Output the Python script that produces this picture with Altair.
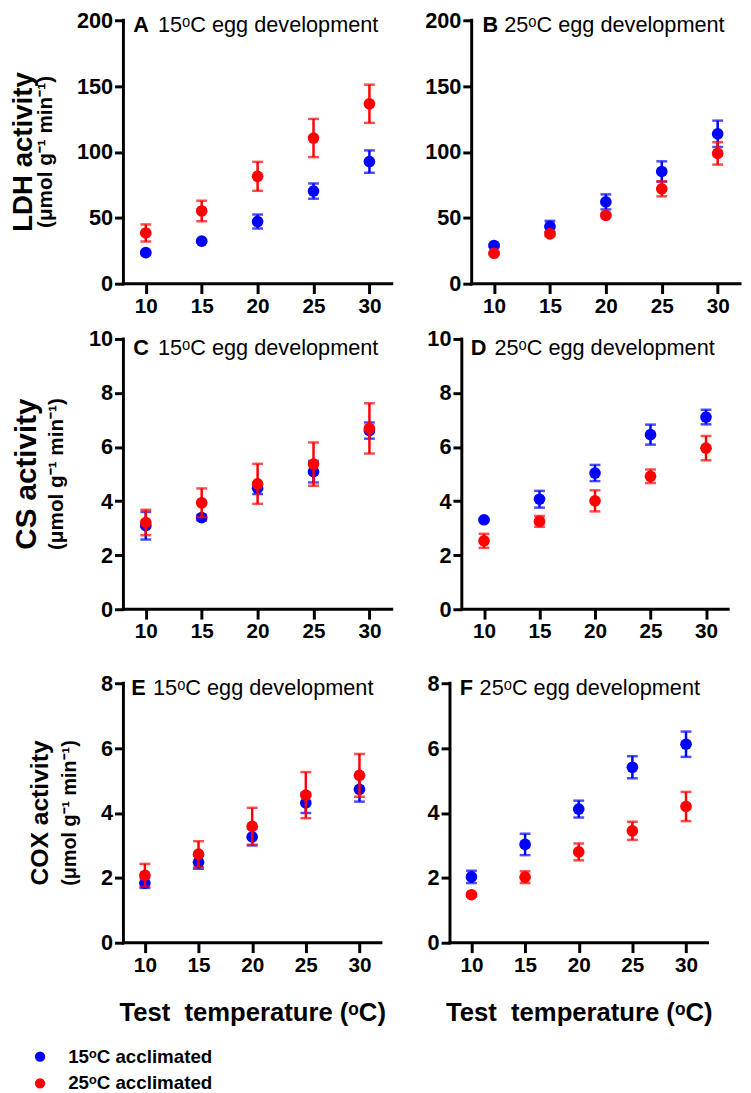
import altair as alt
import pandas as pd

FONT = "Liberation Sans, Arial, Helvetica, sans-serif"

temps = [10, 15, 20, 25, 30]
series_names = ["15ᵒC acclimated", "25ᵒC acclimated"]
series_colors = ["#0000ff", "#ff0000"]

# LDH
A_blue = [23.6, 32.3, 47.2, 70.3, 92.7]
A_blue_err = [1.0, 1.0, 5.3, 5.8, 8.5]
A_red = [38.5, 55.2, 81.5, 110.6, 136.6]
A_red_err = [6.5, 7.8, 11.0, 14.5, 14.5]
B_blue = [29.0, 43.5, 62.1, 85.2, 113.8]
B_blue_err = [1.0, 4.2, 5.7, 7.7, 10.0]
B_red = [23.1, 37.8, 51.9, 72.0, 98.9]
B_red_err = [1.0, 1.5, 1.5, 5.7, 8.5]
# CS
C_blue = [3.09, 3.39, 4.48, 5.09, 6.61]
C_blue_err = [0.51, 0.1, 0.22, 0.4, 0.3]
C_red = [3.21, 3.94, 4.64, 5.37, 6.69]
C_red_err = [0.47, 0.53, 0.74, 0.8, 0.93]
D_blue = [3.31, 4.07, 5.04, 6.46, 7.11]
D_blue_err = [0.05, 0.31, 0.3, 0.37, 0.27]
D_red = [2.53, 3.25, 4.01, 4.92, 5.96]
D_red_err = [0.26, 0.2, 0.39, 0.25, 0.45]
# COX
E_blue = [1.84, 2.48, 3.26, 4.31, 4.73]
E_blue_err = [0.15, 0.2, 0.26, 0.31, 0.38]
E_red = [2.08, 2.73, 3.59, 4.55, 5.16]
E_red_err = [0.35, 0.4, 0.57, 0.71, 0.66]
F_blue = [2.03, 3.03, 4.12, 5.41, 6.12]
F_blue_err = [0.19, 0.33, 0.26, 0.34, 0.39]
F_red = [1.48, 2.02, 2.80, 3.45, 4.20]
F_red_err = [0.05, 0.18, 0.26, 0.28, 0.45]

panel_letters = ["A", "B", "C", "D", "E", "F"]
panel_titles = ["15ᵒC egg development", "25ᵒC egg development",
                "15ᵒC egg development", "25ᵒC egg development",
                "15ᵒC egg development", "25ᵒC egg development"]
y_titles = ["LDH activity", "CS activity", "COX activity"]
y_unit = "(μmol g⁻¹ min⁻¹)"
x_title = "Test\u00a0 temperature (ᵒC)"
x_ticks = [10, 15, 20, 25, 30]
x_domain = [8, 32]
y_max = [200, 10, 8]
y_ticks = [[0, 50, 100, 150, 200], [0, 2, 4, 6, 8, 10], [0, 2, 4, 6, 8]]


def build_df(mb, eb, mr, er):
    rows = []
    for s, m, e in ((series_names[0], mb, eb), (series_names[1], mr, er)):
        for t, v, d in zip(temps, m, e):
            rows.append({"series": s, "temp": t, "mean": v, "lo": v - d, "hi": v + d})
    return pd.DataFrame(rows)


def text_layer(s, x, y, size, weight, angle=0, align="left"):
    return alt.Chart(pd.DataFrame({"t": [s]})).mark_text(
        align=align, baseline="alphabetic", fontSize=size, fontWeight=weight,
        font=FONT, angle=angle, color="black"
    ).encode(text="t:N", x=alt.value(x), y=alt.value(y))


def panel(mb, eb, mr, er, row, w, h, idx, letter_x, rest_x, title_y,
          box, ytitle=None, xtitle=False):
    df = build_df(mb, eb, mr, er)
    x_axis = alt.Axis(values=x_ticks, tickSize=10, labelFontSize=21, labelPadding=2,
                      domain=False,
                      title=x_title if xtitle else None,
                      titleFontSize=26, titleFontWeight="bold", titlePadding=25,
                      titleFont=FONT, titleColor="black")
    y_axis = alt.Axis(values=y_ticks[row], tickSize=9, labelFontSize=22,
                      labelPadding=2, domain=False, title=None)
    xs = alt.Scale(domain=x_domain, nice=False, zero=False)
    ys = alt.Scale(domain=[0, y_max[row]], nice=False)
    color = alt.Color("series:N",
                      scale=alt.Scale(domain=series_names, range=series_colors),
                      legend=alt.Legend(title=None, orient="none", legendX=-94, legendY=1041,
                                        direction="vertical", symbolType="circle",
                                        symbolSize=110, symbolStrokeWidth=0,
                                        labelFont=FONT, labelFontSize=19,
                                        labelFontWeight="bold", labelColor="black",
                                        labelOffset=19, rowPadding=7))
    # axis lines drawn through the scales
    ax_df = pd.DataFrame({"x0": [x_domain[0], x_domain[0]], "x1": [x_domain[0], x_domain[1]],
                          "y0": [0, 0], "y1": [y_max[row], 0]})
    axis_lines = alt.Chart(ax_df).mark_rule(color="black", strokeWidth=3, strokeCap="square").encode(
        x=alt.X("x0:Q", scale=xs, axis=x_axis), x2="x1:Q",
        y=alt.Y("y0:Q", scale=ys, axis=y_axis), y2="y1:Q",
    )
    base = alt.Chart(df)
    layers = [axis_lines]
    for s, c in zip(series_names, series_colors):
        err = base.transform_filter(alt.datum.series == s).mark_errorbar(
            ticks=True, size=11, thickness=2.5, color=c
        ).encode(
            x=alt.X("temp:Q", scale=xs, axis=x_axis),
            y=alt.Y("lo:Q", scale=ys, axis=y_axis),
            y2="hi:Q",
        )
        pts = base.transform_filter(alt.datum.series == s).mark_circle(
            size=140, opacity=1
        ).encode(
            x=alt.X("temp:Q", scale=xs, axis=x_axis),
            y=alt.Y("mean:Q", scale=ys, axis=y_axis),
            color=color,
        )
        layers += [err, pts]
    anchor = alt.Chart(pd.DataFrame({"a": [0]})).mark_rect(opacity=0).encode(
        x=alt.value(box[0]), x2=alt.value(box[1]), y=alt.value(box[2]), y2=alt.value(box[3])
    )
    layers.append(anchor)
    layers.append(text_layer(panel_letters[idx], letter_x, title_y, 22, "bold"))
    layers.append(text_layer(panel_titles[idx], rest_x, title_y, 22, "normal"))
    if ytitle is not None:
        t, tsize, tx, usize, ux = ytitle
        layers.append(text_layer(t, tx, h / 2, tsize, "bold", angle=270, align="center"))
        layers.append(text_layer(y_unit, ux, h / 2, usize, "bold", angle=270, align="center"))
    return alt.layer(*layers).properties(width=w, height=h)


h1, h2, h3 = 267, 274, 263
pA = panel(A_blue, A_blue_err, A_red, A_red_err, 0, 272, h1, 0, 10, 35, 12,
           (-117, 274, -10, h1 + 36), ytitle=(y_titles[0], 28, -93, 21, -72))
pB = panel(B_blue, B_blue_err, B_red, B_red_err, 0, 272, h1, 1, 11, 33, 12,
           (-50, 272, -10, h1 + 36))
pC = panel(C_blue, C_blue_err, C_red, C_red_err, 1, 272, h2, 2, 10, 35, 16,
           (-117, 274, -20, h2 + 40), ytitle=(y_titles[1], 30, -89, 21, -61))
pD = panel(D_blue, D_blue_err, D_red, D_red_err, 1, 270, h2, 3, 9, 33, 16,
           (-50, 270, -20, h2 + 40))
pE = panel(E_blue, E_blue_err, E_red, E_red_err, 2, 261, h3, 4, 8, 30, 12,
           (-114, 263, -35, h3 + 10), ytitle=(y_titles[2], 25, -76, 20, -48), xtitle=True)
pF = panel(F_blue, F_blue_err, F_red, F_red_err, 2, 261, h3, 5, 10, 30, 12,
           (-50, 261, -35, h3 + 10), xtitle=True)

row1 = alt.hconcat(pA, pB, spacing=28)
row2 = alt.hconcat(pC, pD, spacing=18)
row3 = alt.hconcat(pE, pF, spacing=15)

chart = alt.vconcat(row1, row2, row3, spacing=0).resolve_scale(
    color="shared"
).properties(
    padding={"left": 0, "top": -6, "right": 0, "bottom": 0}
).configure_view(stroke=None).configure_axis(
    tickColor="black", tickWidth=3,
    grid=False, labelFont=FONT, labelFontWeight="bold", labelColor="black"
)

chart.save("out.html", embed_options={"renderer": "svg", "actions": False})
